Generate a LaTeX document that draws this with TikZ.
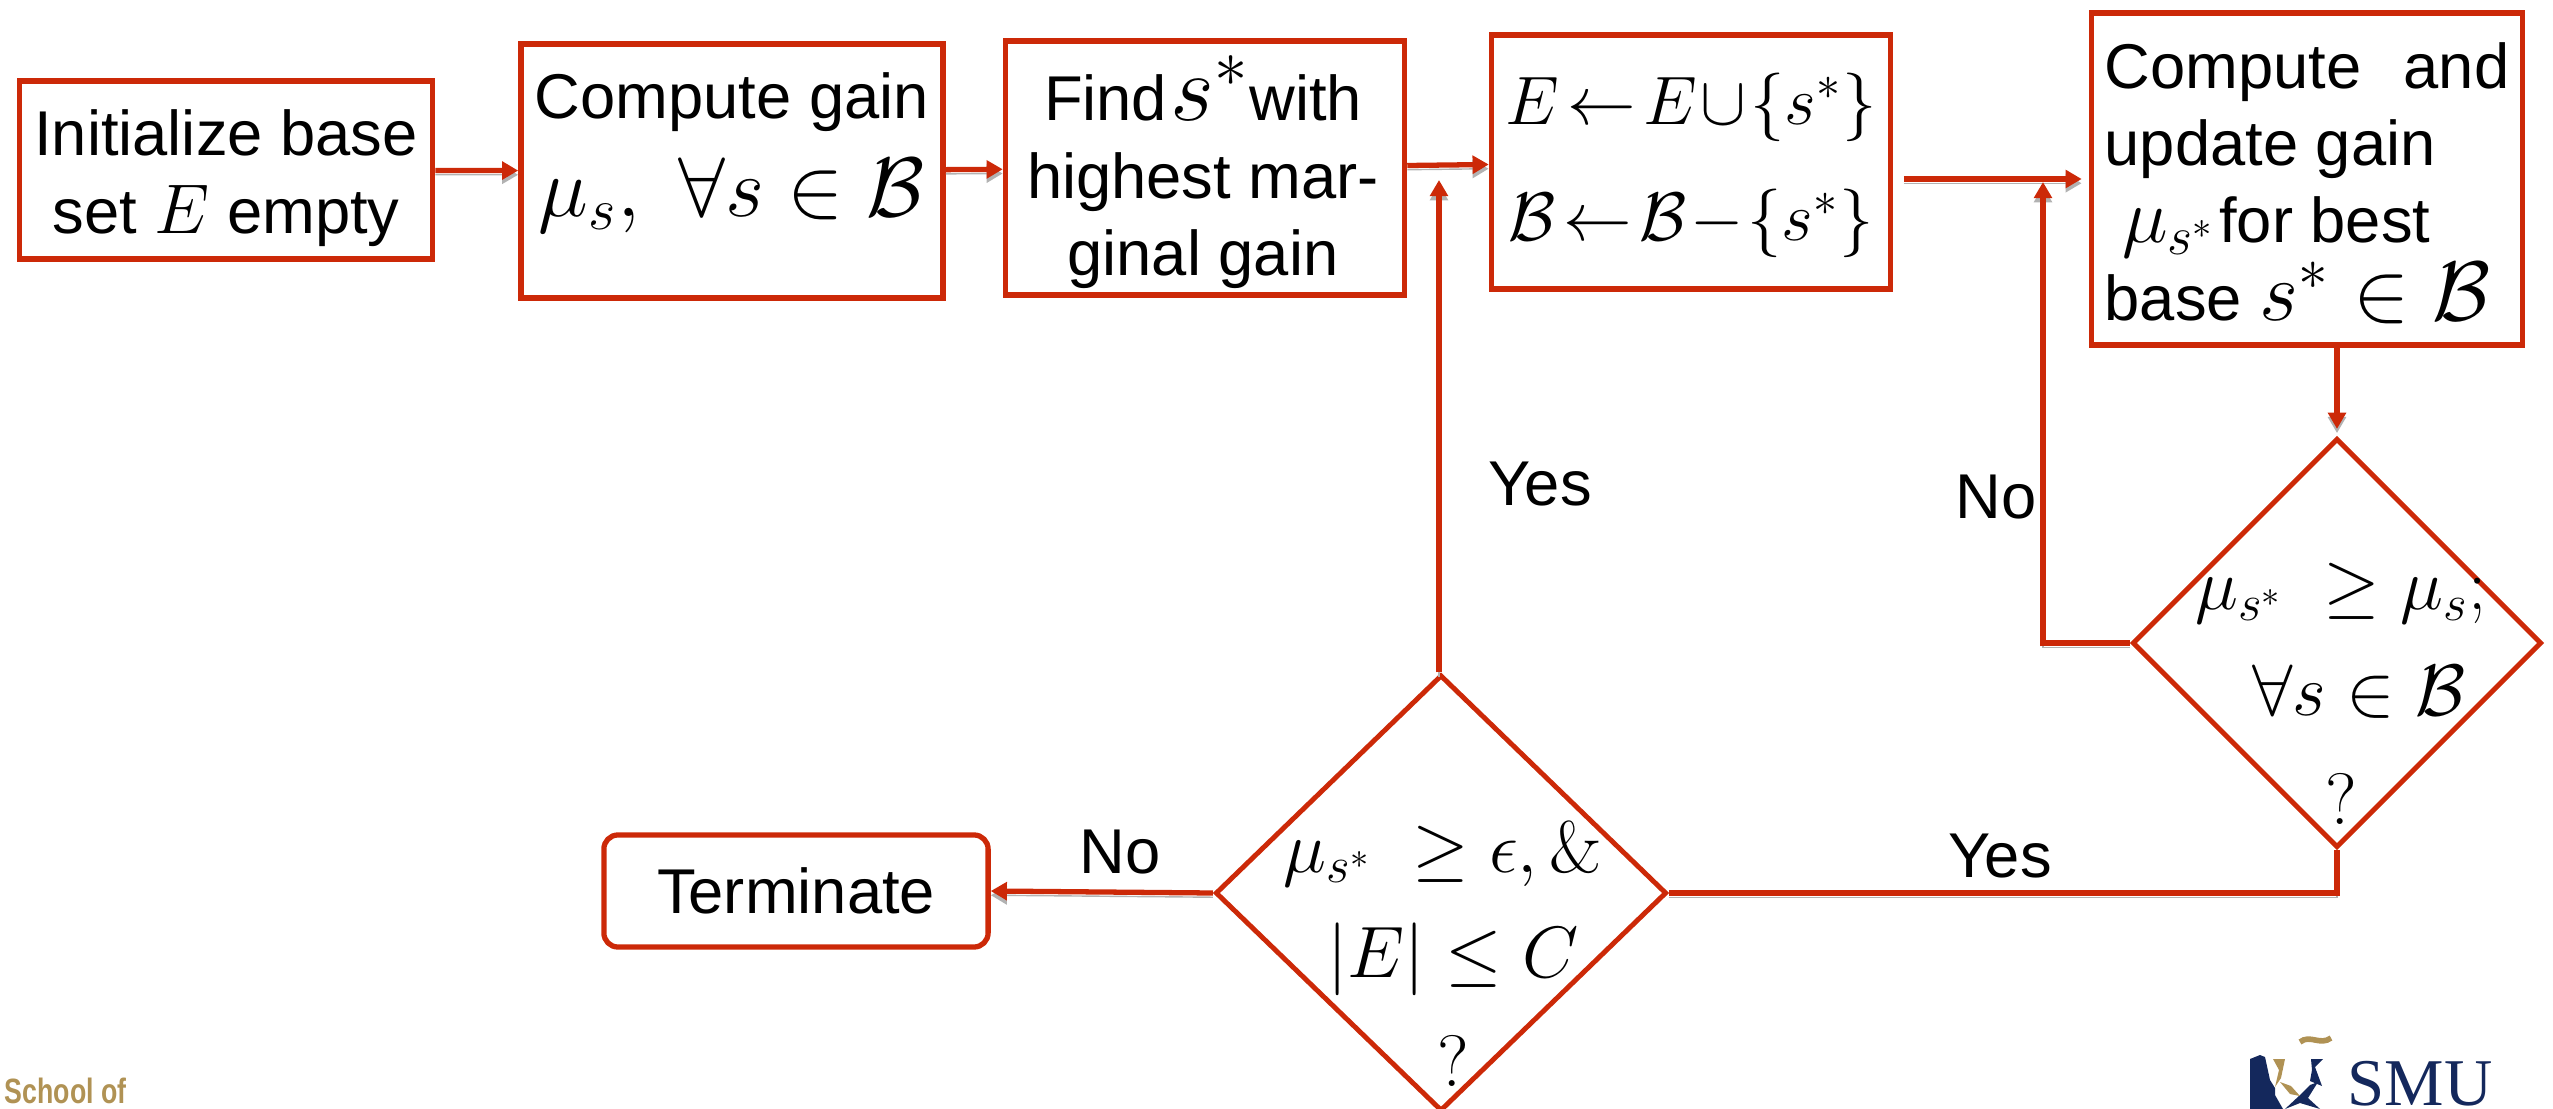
\documentclass[tikz,border=0pt]{standalone}
\usepackage{fix-cm}
\usepackage{amsmath,amssymb}
\usepackage[no-math]{fontspec}
\setmainfont{Liberation Sans}
\newfontfamily\schoolfont[FakeStretch=0.76]{Liberation Sans}
\newfontfamily\smufont{Liberation Serif}
\usetikzlibrary{arrows.meta,positioning,shapes.geometric,calc}
\definecolor{brick}{RGB}{204,41,8}
\definecolor{navy}{RGB}{20,40,92}
\definecolor{gold}{RGB}{176,146,84}
\newcommand{\mth}[2]{{\fontsize{#1}{#1}\selectfont$#2$}}
\tikzset{
  stepbox/.style={draw=brick,line width=1.5pt,inner sep=0pt},
  ask/.style={draw=brick,line width=1.4pt,shape=diamond,inner sep=0pt},
  flow/.style={draw=brick,line width=1.5pt,-{Triangle[length=4.6pt,width=5pt]},
    preaction={draw=black!30,transform canvas={yshift=-1.2pt}}},
  plain/.style={draw=brick,line width=1.5pt,
    preaction={draw=black!30,transform canvas={yshift=-1.2pt}}},
  lbl/.style={font=\fontsize{18}{22}\selectfont,inner sep=0pt,align=center}
}
\begin{document}
\begin{tikzpicture}[x=0.01cm,y=-0.01cm]
  \useasboundingbox (0,0) rectangle (2553,1109);
  % top row
  \node[stepbox,minimum width=4.13cm,minimum height=1.78cm] (init) at (226,170) {};
  \node[stepbox,minimum width=4.22cm,minimum height=2.54cm] (gain) at (732,171) {};
  \node[stepbox,minimum width=3.99cm,minimum height=2.54cm] (find) at (1205,168) {};
  \node[stepbox,minimum width=3.99cm,minimum height=2.54cm] (sets) at (1691,162) {};
  \node[stepbox,minimum width=4.31cm,minimum height=3.32cm] (upd) at (2307,179) {};
  \node[lbl] (inittxt) at (226,178) {Initialize base\\set \mth{20}{E} empty};
  \node[lbl] (gaintxt) at (732,153) {Compute gain\\[6pt]\mth{24}{\mu_s,\ \forall s\in\mathcal{B}}};
  \node[lbl] (findtxt) at (1203,172) {Find\hspace{1pt}\mth{27}{s^{*}}with\\highest mar-\\ginal gain};
  \node[lbl] (setstxt) at (1691,165) {\thickmuskip=2mu\medmuskip=1mu\mth{19.5}{E\leftarrow E\cup\{s^{*}\}}\\[11pt]
    \thickmuskip=2mu\medmuskip=1mu\mth{19.5}{\mathcal{B}\leftarrow\mathcal{B}-\{s^{*}\}}};
  \node[lbl,anchor=west,align=left] (updtxt) at (2104,183) {Compute\ \ \hspace{2pt}and\\update gain\\\ \mth{22}{\mu_{s^{*}}}\hspace{1pt}for best\\base \mth{24}{s^{*}\in\mathcal{B}}};
  % decisions
  \node[ask,minimum width=4.09cm,minimum height=4.09cm] (chk) at (2337,643) {};
  \node[ask,minimum width=4.51cm,minimum height=4.36cm] (stop) at (1441,893) {};
  \node[lbl] (chktxt) at (2341,694) {\mth{20.7}{\mu_{s^{*}}\ \geq\mu_{s};}\\[8pt]\hspace*{0.36cm}\mth{20.7}{\forall s\in\mathcal{B}}\\[9pt]\mth{20.7}{?}};
  \node[lbl] (stoptxt) at (1443,954) {\mth{20.7}{\mu_{s^{*}}\ \geq\epsilon,\&}\\[8pt]\hspace*{0.2cm}\mth{20.7}{|E|\leq C}\\[9pt]\hspace*{0.2cm}\mth{20.7}{?}};
  \node[stepbox,lbl,rounded corners=4pt,minimum width=3.84cm,minimum height=1.12cm] (term) at (796,891) {Terminate};
  % free ends
  \coordinate (joinA) at (1439,180);
  \coordinate (joinB) at (2043,182);
  \coordinate (bend) at (2043,643);
  \coordinate (low) at (2337,893);
  % connectors
  \draw[flow] (init) -- (gain);
  \draw[flow] (gain) -- (find);
  \draw[flow] (find) -- (sets);
  \draw[flow,shorten >=2pt] ([xshift=3pt]sets.east |- upd.west) -- (upd.west);
  \draw[flow,shorten >=2pt] (upd.south -| chk.north) -- (chk.north);
  \draw[flow] (chk.west) -- (bend) -- (joinB);
  \draw[plain] (chk.south) -- (low) -- (stop.east);
  \draw[flow] (stop.west) -- (term.east);
  \draw[flow] (stop.north -| joinA) -- (joinA);
  % labels
  \node[lbl,anchor=base] (yesup) at (1540,505) {Yes};
  \node[lbl,anchor=base] (noup) at (1996,518) {No};
  \node[lbl,anchor=base] (yeslow) at (2000,877) {Yes};
  \node[lbl,anchor=base] (nolow) at (1120,873) {No};
  % logos
  \node[anchor=base west,inner sep=0pt,text=gold,font=\schoolfont\bfseries\fontsize{10}{10}\selectfont] (school) at (4,1103) {School of};
  \node[anchor=base west,inner sep=0pt,text=navy,font=\smufont\fontsize{19}{20}\selectfont] (smu) at (2347,1105) {SMU};
  \fill[navy] (2250,1059) -- (2260,1055) -- (2265,1057) -- (2270,1080) -- (2275,1088) -- (2275,1095) -- (2283,1109) -- (2250,1109) -- cycle;
  \fill[navy] (2311,1059) -- (2323,1059) -- (2315,1067) -- (2322,1086) -- (2310,1081) -- (2312,1070) -- cycle;
  \fill[navy] (2300,1095) -- (2310,1085) -- (2318,1082) -- (2308,1098) -- (2320,1109) -- (2300,1103) -- (2285,1109) -- cycle;
  \fill[gold] (2273,1059) -- (2285,1059) -- (2281,1078) -- (2275,1087) -- (2279,1070) -- cycle;
  \fill[gold] (2280,1082) -- (2291,1086) -- (2300,1096) -- (2290,1094) -- cycle;
  \draw[gold,line width=1.6pt] (2300,1042) .. controls (2310,1034) and (2320,1046) .. (2331,1038);
\end{tikzpicture}
\end{document}
